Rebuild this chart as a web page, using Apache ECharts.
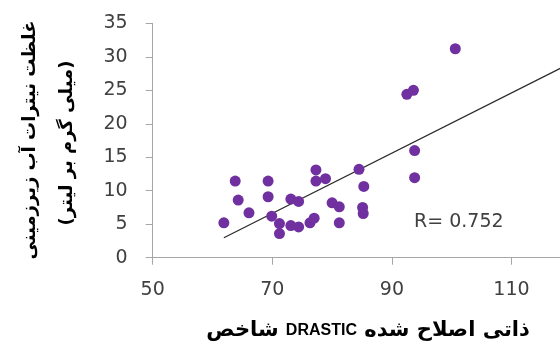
<!DOCTYPE html>
<html>
<head>
<meta charset="utf-8">
<script src="https://cdn.jsdelivr.net/npm/echarts@6/dist/echarts.min.js"></script>
<style>
html,body{margin:0;padding:0;background:#fff;}
#chart{width:560px;height:347px;}
</style>
</head>
<body>
<div id="chart"></div>
<script>
// Data
const xValues = [61.9, 63.8, 64.3, 66.1, 69.3, 69.3, 69.9, 71.2, 71.2, 73.1, 73.1, 74.4, 74.4, 76.3, 77.0,
                 77.3, 77.3, 78.9, 80.0, 81.2, 81.2, 84.5, 85.3, 85.1, 85.2, 92.5, 93.6, 93.8, 93.8, 100.6];
const yValues = [5.2, 11.45, 8.6, 6.7, 11.45, 9.1, 6.2, 5.1, 3.6, 8.75, 4.8, 8.4, 4.6, 5.2, 5.9,
                 13.1, 11.45, 11.8, 8.2, 7.6, 5.2, 13.2, 10.65, 7.5, 6.6, 24.4, 25.0, 16.0, 11.95, 31.2];
const xTicks = [50, 70, 90, 110];
const yTicks = [0, 5, 10, 15, 20, 25, 30, 35];
const xTitleParts = ['شاخص ', 'DRASTIC', ' ذاتی اصلاح شده'];
const yTitleLine1 = 'غلظت نیترات آب زیرزمینی';
const yTitleLine2 = '(میلی گرم بر لیتر)';
const rLabel = 'R= 0.752';
const trendEndX = 120;

const points = xValues.map((x, i) => [x, yValues[i]]);

// least-squares trendline from the data
const n = xValues.length;
const mx = xValues.reduce((a, b) => a + b, 0) / n;
const my = yValues.reduce((a, b) => a + b, 0) / n;
let sxy = 0, sxx = 0;
for (let i = 0; i < n; i++) { sxy += (xValues[i] - mx) * (yValues[i] - my); sxx += (xValues[i] - mx) ** 2; }
const slope = sxy / sxx;
const intercept = my - slope * mx;
const xMin = Math.min(...xValues);
const trend = [[xMin, intercept + slope * xMin], [trendEndX, intercept + slope * trendEndX]];

const chart = echarts.init(document.getElementById('chart'), null, {renderer: 'canvas'});
const labelFont = 'DejaVu Sans';
const axisColor = '#A6A6A6';
const textColor = '#404040';

chart.setOption({
  animation: false,
  grid: {left: 152.7, top: 23.3, width: 418.6, height: 234.4, containLabel: false, outerBoundsMode: 'none'},
  xAxis: {
    type: 'value', min: xTicks[0], max: trendEndX, interval: xTicks[1] - xTicks[0],
    axisLine: {lineStyle: {color: axisColor, width: 1}},
    axisTick: {show: true, inside: false, length: 7, lineStyle: {color: axisColor}},
    axisLabel: {showMaxLabel: false, margin: 23, color: textColor, fontFamily: labelFont, fontSize: 19},
    splitLine: {show: false}
  },
  yAxis: {
    type: 'value', min: yTicks[0], max: yTicks[yTicks.length - 1], interval: yTicks[1] - yTicks[0],
    axisLine: {show: true, lineStyle: {color: axisColor, width: 1}},
    axisTick: {show: true, inside: false, length: 7, lineStyle: {color: axisColor}},
    axisLabel: {margin: 25, color: textColor, fontFamily: labelFont, fontSize: 19},
    splitLine: {show: false}
  },
  series: [
    {
      type: 'line', data: trend, showSymbol: false, symbol: 'none', silent: true, clip: false,
      lineStyle: {color: '#2b2b2b', width: 1.2}, z: 1
    },
    {
      type: 'scatter', data: points, symbolSize: 11,
      itemStyle: {color: '#7030A0', opacity: 1}, z: 2
    }
  ],
  graphic: [
    {
      type: 'text', left: 414, top: 213,
      style: {text: rLabel, fill: textColor, font: '19px "DejaVu Sans"'}
    },
    {
      type: 'text', x: 368, y: 331,
      style: {
        text: '{ar|' + xTitleParts[0] + '}{en|' + xTitleParts[1] + '}{ar|' + xTitleParts[2] + '}',
        textAlign: 'center', textVerticalAlign: 'middle',
        rich: {
          ar: {fill: '#000', fontFamily: 'DejaVu Sans', fontWeight: 'bold', fontSize: 21, lineHeight: 28},
          en: {fill: '#000', fontFamily: 'Liberation Sans', fontWeight: 'bold', fontSize: 16, lineHeight: 28}
        }
      }
    },
    {
      type: 'text', x: 30, y: 140, rotation: Math.PI / 2,
      style: {text: yTitleLine1, fill: '#000', font: 'bold 18px "DejaVu Sans"', textAlign: 'center', textVerticalAlign: 'middle'}
    },
    {
      type: 'text', x: 67, y: 143, rotation: Math.PI / 2,
      style: {text: yTitleLine2, fill: '#000', font: 'bold 18px "DejaVu Sans"', textAlign: 'center', textVerticalAlign: 'middle'}
    }
  ]
});
</script>
</body>
</html>
